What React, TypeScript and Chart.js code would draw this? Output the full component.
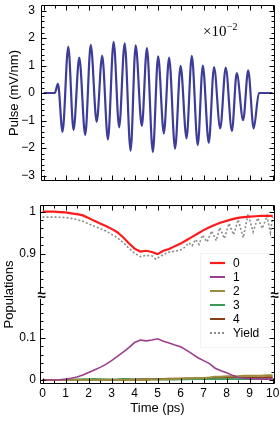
import React, { useEffect, useRef } from "react";
import { Chart, registerables } from "chart.js";

Chart.register(...registerables);

const SANS = '"Liberation Sans", Arial, Helvetica, sans-serif';
const SERIF = '"Liberation Serif", "Times New Roman", serif';

// ---------- Top panel: pulse (units of 1e-2 mV/nm) ----------
const pulseTime = [
  0, 0.49, 0.63, 0.83, 1.08, 1.31, 1.56, 1.82, 2.06, 2.32, 2.56, 2.81, 3.06, 3.3, 3.54, 3.8,
  4.02, 4.29, 4.51, 4.77, 5.0, 5.25, 5.48, 5.74, 5.98, 6.24, 6.47, 6.73, 6.95, 7.21, 7.44,
  7.71, 7.95, 8.22, 8.43, 8.71, 8.93, 9.17, 9.4, 10,
];
const pulseValue = [
  0, 0, 0.33, -1.41, 1.69, -1.35, 1.29, -1.53, 1.75, -1.05, 1.36, -1.69, 1.86, -1.25, 1.81, -2.1,
  1.73, -1.2, 1.63, -2.14, 1.33, -1.47, 1.29, -2.02, 0.99, -1.65, 1.35, -1.9, 1.0, -1.81, 0.94,
  -1.29, 0.92, -1.38, 0.72, -0.99, 0.82, -1.29, 0, 0,
];
const pulseTickValues = [-3, -2, -1, 0, 1, 2, 3];

// ---------- Bottom panel: populations ----------
const timeTickValues = [0, 1, 2, 3, 4, 5, 6, 7, 8, 9, 10];
const popTime = [
  0, 0.25, 0.5, 0.75, 1, 1.25, 1.5, 1.75, 2, 2.25, 2.5, 2.75, 3, 3.25, 3.5, 3.75, 4, 4.25, 4.5,
  4.75, 5, 5.25, 5.5, 5.75, 6, 6.25, 6.5, 6.75, 7, 7.25, 7.5, 7.75, 8, 8.25, 8.5, 8.75, 9, 9.25,
  9.5, 9.75, 10,
];
const pop0 = [
  1.0, 1.0, 1.0, 0.999, 0.998, 0.996, 0.994, 0.991, 0.985, 0.978, 0.972, 0.966, 0.959, 0.951,
  0.939, 0.925, 0.912, 0.905, 0.907, 0.904, 0.899, 0.907, 0.911, 0.918, 0.924, 0.932, 0.94, 0.948,
  0.956, 0.963, 0.969, 0.974, 0.978, 0.982, 0.985, 0.987, 0.988, 0.989, 0.99, 0.99, 0.99,
];
const pop1 = [
  0, 0, 0, 0.0005, 0.002, 0.004, 0.007, 0.012, 0.018, 0.024, 0.03, 0.037, 0.046, 0.056, 0.066,
  0.077, 0.089, 0.095, 0.093, 0.095, 0.098, 0.092, 0.088, 0.083, 0.079, 0.071, 0.062, 0.053, 0.046,
  0.039, 0.028, 0.022, 0.017, 0.011, 0.006, 0.004, 0.003, 0.003, 0.002, 0.002, 0.002,
];
const pop2 = [
  0, 0, 0, 0, 0, 0, 0, 0, 0, 0, 0, 0, 0, 0, 0, 0, 0, 0, 0, 0.001, 0.001, 0.002, 0.002, 0.003,
  0.003, 0.004, 0.004, 0.005, 0.005, 0.006, 0.008, 0.008, 0.009, 0.009, 0.009, 0.01, 0.01, 0.01,
  0.01, 0.011, 0.011,
];
const pop3 = [
  0, 0, 0, 0, 0.0005, 0.001, 0.0015, 0.002, 0.002, 0.0025, 0.002, 0.0015, 0.001, 0.0015, 0.0025,
  0.002, 0.001, 0.001, 0.001, 0.0015, 0.0015, 0.001, 0.001, 0.001, 0.0015, 0.0015, 0.002, 0.002,
  0.002, 0.002, 0.002, 0.002, 0.002, 0.002, 0.002, 0.002, 0.002, 0.002, 0.002, 0.002, 0.002,
];
const pop4 = [
  0, 0, 0, 0, 0, 0, 0, 0, 0, 0.0003, 0.0005, 0.0007, 0.001, 0.001, 0.0012, 0.0014, 0.0016, 0.0018,
  0.002, 0.0022, 0.0025, 0.0027, 0.003, 0.0032, 0.0035, 0.0037, 0.004, 0.0042, 0.0045, 0.0047,
  0.005, 0.0052, 0.0055, 0.0057, 0.006, 0.006, 0.0062, 0.0063, 0.0064, 0.0065, 0.0065,
];
const yieldTime = [
  0, 0.5, 1.0, 1.25, 1.5, 1.75, 2.0, 2.25, 2.5, 2.75, 3.0, 3.25, 3.5, 3.75, 4.0, 4.25, 4.5, 4.75,
  4.92, 5.1, 5.3, 5.5, 5.75, 6.0, 6.2, 6.35, 6.5, 6.65, 6.8, 6.95, 7.15, 7.35, 7.55, 7.7, 7.9, 8.1,
  8.3, 8.5, 8.72, 8.93, 9.15, 9.35, 9.55, 9.75, 9.9, 10,
];
const yieldValue = [
  0.987, 0.987, 0.986, 0.984, 0.981, 0.977, 0.971, 0.965, 0.96, 0.954, 0.946, 0.938, 0.927, 0.913,
  0.901, 0.893, 0.896, 0.895, 0.887, 0.893, 0.899, 0.904, 0.906, 0.909, 0.916, 0.926, 0.919, 0.934,
  0.922, 0.944, 0.928, 0.954, 0.931, 0.962, 0.936, 0.972, 0.945, 0.981, 0.938, 0.994, 0.952, 0.985,
  0.96, 0.99, 0.95, 0.988,
];
const popTickValues = [0, 0.1, 0.9, 1];
const popTickLabels = ["0", "0.1", "0.9", "1"];
const legendLabels = ["0", "1", "2", "3", "4", "Yield"];
const legendColors = ["#ff1a1a", "#9c3d8e", "#9c8c3c", "#3a9a58", "#8a3c14", "#8c8c8c"];

// broken axis: values above the gap are shifted down by 0.6
const toAxis = (v: number) => (v >= 0.5 ? v - 0.6 : v);
const fmt = (v: number) => (v < 0 ? "\u2212" + Math.abs(v) : String(v));

const framePlugin = {
  id: "frameTicks",
  afterDatasetsDraw(chart: any, _a: any, o: any) {
    const { ctx, chartArea: a } = chart;
    const xs = chart.scales.x;
    const ys = chart.scales.y;
    const L = Math.round(a.left) + 0.5;
    const R = Math.round(a.right) - 0.5;
    const T = Math.round(a.top) + 0.5;
    const B = Math.round(a.bottom) - 0.5;
    const c = (p: number) => Math.round(p) + 0.5;
    ctx.save();

    // legend box
    if (o.legend) {
      const lg = o.legend;
      ctx.fillStyle = "#fff";
      ctx.fillRect(lg.left, lg.top, lg.right - lg.left, lg.bottom - lg.top);
      ctx.strokeStyle = "#f2f2f2";
      ctx.lineWidth = 1;
      ctx.strokeRect(lg.left + 0.5, lg.top + 0.5, lg.right - lg.left, lg.bottom - lg.top);
      ctx.font = `12px ${SANS}`;
      ctx.textBaseline = "middle";
      ctx.textAlign = "left";
      legendLabels.forEach((lab, i) => {
        const y = lg.y0 + i * lg.step;
        ctx.strokeStyle = legendColors[i];
        ctx.lineWidth = i === 0 ? 2.2 : 2;
        ctx.setLineDash(i === 5 ? [2, 2] : []);
        ctx.beginPath();
        ctx.moveTo(lg.x0, y);
        ctx.lineTo(lg.x0 + lg.len, y);
        ctx.stroke();
        ctx.setLineDash([]);
        ctx.fillStyle = "#000";
        ctx.fillText(lab, lg.textX, y + 0.5);
      });
    }

    ctx.strokeStyle = "#000";
    ctx.lineWidth = 1;
    ctx.setLineDash([]);
    ctx.beginPath();
    ctx.rect(L, T, R - L, B - T);
    ctx.stroke();

    const tick = (x1: number, y1: number, x2: number, y2: number) => {
      ctx.moveTo(x1, y1);
      ctx.lineTo(x2, y2);
    };
    ctx.beginPath();
    const xmin = xs.min, xmax = xs.max;
    for (let k = Math.ceil(xmin / o.xStep); k * o.xStep <= xmax; k++) {
      const v = k * o.xStep;
      const major = Math.abs(v - Math.round(v)) < 1e-6;
      const len = major ? 5 : 3;
      const px = c(xs.getPixelForValue(v));
      tick(px, B, px, B - len);
      tick(px, T, px, T + len);
    }
    for (let k = Math.ceil(ys.min / o.yStep - 1e-6); k * o.yStep <= ys.max + 1e-9; k++) {
      const v = k * o.yStep;
      if (o.skipY && o.skipY(v)) continue;
      const major = o.isMajorY(v);
      const len = major ? 5 : 3;
      const py = c(ys.getPixelForValue(v));
      if (py <= T + 1 || py >= B - 1) continue;
      tick(L, py, L + len, py);
      tick(R, py, R - len, py);
    }
    ctx.stroke();

    if (o.breakAt != null) {
      const yb = ys.getPixelForValue(o.breakAt);
      ctx.fillStyle = "#fff";
      ctx.fillRect(L - 3, yb - 3, 6, 6);
      ctx.fillRect(R - 3, yb - 3, 6, 6);
      ctx.fillStyle = "#000";
      ctx.font = `bold 15px ${SANS}`;
      ctx.textAlign = "center";
      ctx.textBaseline = "middle";
      ctx.fillText("\u2248", L + 1, yb);
      ctx.fillText("\u2248", R, yb);
    }

    if (o.note) {
      ctx.fillStyle = "#000";
      ctx.textAlign = "left";
      ctx.textBaseline = "alphabetic";
      ctx.font = `15px ${SERIF}`;
      ctx.fillText("\u00d710", o.note.x, o.note.y);
      const w = ctx.measureText("\u00d710").width;
      ctx.font = `10px ${SERIF}`;
      ctx.fillText("\u22122", o.note.x + w + 0.5, o.note.y - 6);
    }
    ctx.restore();
  },
};

const noPad = (s: any) => {
  s.paddingTop = 0;
  s.paddingBottom = 0;
  s.paddingLeft = 0;
  s.paddingRight = 0;
};

function topConfig(): any {
  return {
    type: "line",
    data: {
      datasets: [
        {
          data: pulseTime.map((t, i) => ({ x: t, y: pulseValue[i] })),
          borderColor: "#3d3d99",
          borderWidth: 2.2,
          pointRadius: 0,
          cubicInterpolationMode: "monotone",
          fill: false,
        },
      ],
    },
    options: {
      responsive: false,
      devicePixelRatio: 1,
      animation: false,
      events: [],
      layout: { padding: { left: 0, right: 5, top: 5, bottom: 11 } },
      plugins: {
        legend: { display: false },
        tooltip: { enabled: false },
        frameTicks: {
          xStep: 0.5,
          yStep: 0.2,
          isMajorY: (v: number) => Math.abs(v - Math.round(v)) < 1e-6,
          note: { x: 203, y: 36 },
        },
      },
      scales: {
        x: { type: "linear", min: -0.11, max: 10.1, display: false },
        y: {
          type: "linear",
          min: -3.2,
          max: 3.2,
          afterFit: (s: any) => {
            s.width = 41;
            noPad(s);
          },
          afterBuildTicks: (s: any) => {
            s.ticks = pulseTickValues.map((v) => ({ value: v }));
          },
          grid: { display: false, drawTicks: false },
          border: { display: false },
          ticks: {
            autoSkip: false,
            padding: 6,
            color: "#000",
            font: { family: SANS, size: 12 },
            callback: (v: number) => fmt(v),
          },
          title: {
            display: true,
            text: "Pulse (mV/nm)",
            color: "#000",
            font: { family: SANS, size: 13 },
            padding: { top: 7, bottom: 0 },
          },
        },
      },
    },
    plugins: [framePlugin],
  };
}

function bottomConfig(): any {
  const line = (xs: number[], ys: number[], color: string, width: number, dash: number[] = []) => ({
    data: xs.map((t, i) => ({ x: t, y: toAxis(ys[i]) })),
    borderColor: color,
    borderWidth: width,
    borderDash: dash,
    pointRadius: 0,
    tension: 0,
    fill: false,
  });
  return {
    type: "line",
    data: {
      datasets: [
        line(popTime, pop0, legendColors[0], 2.2),
        line(popTime, pop1, legendColors[1], 1.6),
        line(popTime, pop2, legendColors[2], 2),
        line(popTime, pop3, legendColors[3], 1.8),
        line(popTime, pop4, legendColors[4], 1.8),
        line(yieldTime, yieldValue, legendColors[5], 1.6, [2, 2]),
      ],
    },
    options: {
      responsive: false,
      devicePixelRatio: 1,
      animation: false,
      events: [],
      layout: { padding: { left: 0, right: 5, top: 13, bottom: 0 } },
      plugins: {
        legend: { display: false },
        tooltip: { enabled: false },
        frameTicks: {
          xStep: 0.5,
          yStep: 0.02,
          isMajorY: (u: number) => [0, 0.1, 0.3, 0.4].some((m) => Math.abs(u - m) < 1e-6),
          skipY: (u: number) => Math.abs(u - 0.2) < 1e-6,
          breakAt: 0.2,
          legend: { left: 200, top: 61, right: 274, bottom: 155, x0: 210, len: 15, textX: 233, y0: 71, step: 14 },
        },
      },
      scales: {
        x: {
          type: "linear",
          min: -0.11,
          max: 10.1,
          afterFit: (s: any) => {
            s.height = 40;
            noPad(s);
          },
          afterBuildTicks: (s: any) => {
            s.ticks = timeTickValues.map((v) => ({ value: v }));
          },
          grid: { display: false, drawTicks: false },
          border: { display: false },
          ticks: {
            autoSkip: false,
            maxRotation: 0,
            padding: 2,
            color: "#000",
            font: { family: SANS, size: 12 },
            callback: (v: number) => String(v),
          },
          title: {
            display: true,
            text: "Time (ps)",
            color: "#000",
            font: { family: SANS, size: 13 },
            padding: { top: 0, bottom: 8 },
          },
        },
        y: {
          type: "linear",
          min: -0.0095,
          max: 0.4157,
          afterFit: (s: any) => {
            s.width = 40;
            noPad(s);
          },
          afterBuildTicks: (s: any) => {
            s.ticks = popTickValues.map((v) => ({ value: toAxis(v) }));
          },
          grid: { display: false, drawTicks: false },
          border: { display: false },
          ticks: {
            autoSkip: false,
            padding: 4,
            color: "#000",
            font: { family: SANS, size: 12 },
            callback: (_v: number, i: number) => popTickLabels[i],
          },
          title: {
            display: true,
            text: "Populations",
            color: "#000",
            font: { family: SANS, size: 13 },
            padding: { top: 2, bottom: 0 },
          },
        },
      },
    },
    plugins: [framePlugin],
  };
}

export default function App() {
  const topRef = useRef<HTMLCanvasElement>(null);
  const botRef = useRef<HTMLCanvasElement>(null);
  useEffect(() => {
    const top = new Chart(topRef.current as HTMLCanvasElement, topConfig());
    const bot = new Chart(botRef.current as HTMLCanvasElement, bottomConfig());
    return () => {
      top.destroy();
      bot.destroy();
    };
  }, []);
  return (
    <div style={{ position: "absolute", left: 0, top: 0, width: 280, height: 424, background: "#fff" }}>
      <canvas
        ref={topRef}
        width={280}
        height={192}
        style={{ position: "absolute", left: 0, top: 0, width: 280, height: 192 }}
      />
      <canvas
        ref={botRef}
        width={280}
        height={232}
        style={{ position: "absolute", left: 0, top: 192, width: 280, height: 232 }}
      />
    </div>
  );
}
